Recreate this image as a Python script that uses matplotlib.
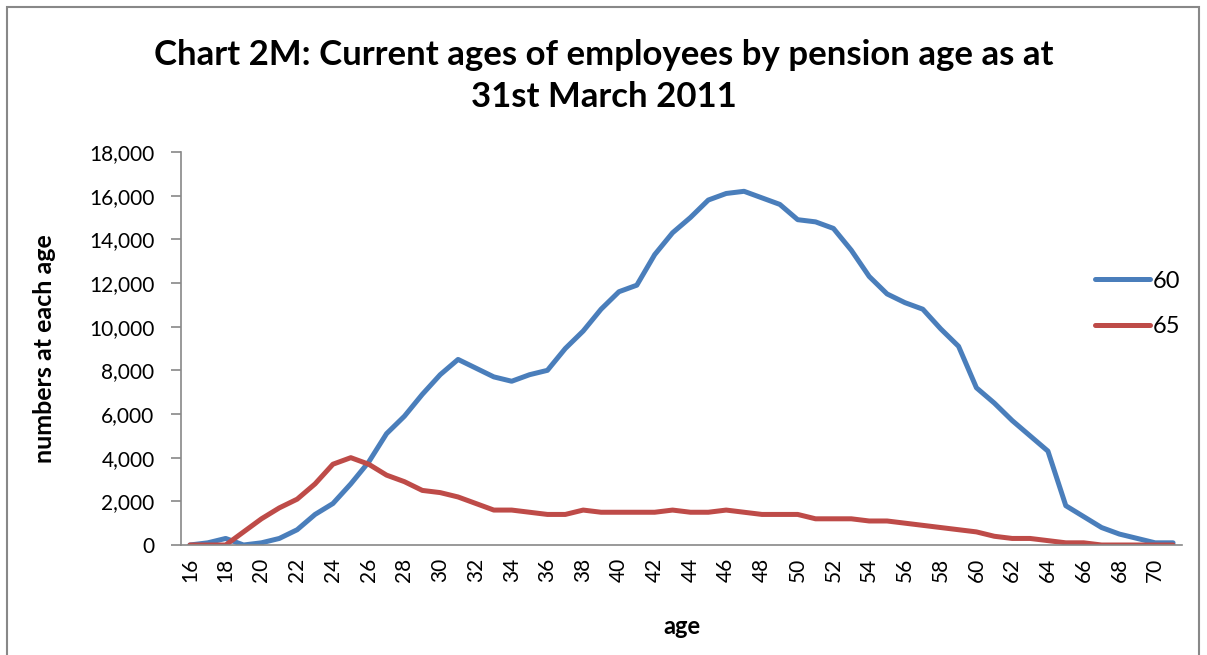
import matplotlib.pyplot as plt
from matplotlib.patches import Rectangle
from matplotlib.ticker import FuncFormatter

ages = list(range(16, 72))

# pension age 60
pension_60 = [0, 100, 300, 0, 100, 300, 700, 1400, 1900, 2800,
              3800, 5100, 5900, 6900, 7800, 8500, 8100, 7700, 7500, 7800,
              8000, 9000, 9800, 10800, 11600, 11900, 13300, 14300, 15000, 15800,
              16100, 16200, 15900, 15600, 14900, 14800, 14500, 13500, 12300, 11500,
              11100, 10800, 9900, 9100, 7200, 6500, 5700, 5000, 4300, 1800,
              1300, 800, 500, 300, 100, 100]

# pension age 65
pension_65 = [0, 0, 0, 600, 1200, 1700, 2100, 2800, 3700, 4000,
              3700, 3200, 2900, 2500, 2400, 2200, 1900, 1600, 1600, 1500,
              1400, 1400, 1600, 1500, 1500, 1500, 1500, 1600, 1500, 1500,
              1600, 1500, 1400, 1400, 1400, 1200, 1200, 1200, 1100, 1100,
              1000, 900, 800, 700, 600, 400, 300, 300, 200, 100,
              100, 0, 0, 0, 0, 0]

series_names = ["60", "65"]
colors = ["#4A7EBB", "#BE4B48"]

plt.rcParams['font.family'] = ['Lato', 'DejaVu Sans']

fig = plt.figure(figsize=(12.07, 6.55), dpi=100)
ax = fig.add_axes([181 / 1207, 1 - 545 / 655, (1182 - 181) / 1207, (545 - 152) / 655])

for vals, name, c in zip([pension_60, pension_65], series_names, colors):
    ax.plot(ages, vals, color=c, lw=3.6, label=name, solid_capstyle='round')

ax.set_xlim(ages[0] - 0.5, ages[-1] + 0.5)
ax.set_ylim(0, 18000)
ax.set_yticks(range(0, 18001, 2000))
ax.yaxis.set_major_formatter(FuncFormatter(lambda v, p: f"{int(v):,}"))
ax.set_xticks(ages[::2])
ax.set_xticklabels([str(a) for a in ages[::2]], rotation=90)

for s in ['top', 'right']:
    ax.spines[s].set_visible(False)
for s in ['left', 'bottom']:
    ax.spines[s].set_color('#888888')
    ax.spines[s].set_linewidth(1.2)
ax.tick_params(axis='y', length=7, width=1.2, color='#888888', labelsize=15, pad=12)
ax.tick_params(axis='x', length=0, labelsize=15, pad=9)

ax.set_xlabel("age", fontsize=17, fontweight='bold')
ax.set_ylabel("numbers at each age", fontsize=18, fontweight='bold')
ax.xaxis.set_label_coords(0.5, (545 - 615) / 393)
ax.yaxis.set_label_coords((56 - 181) / 1001, 0.5)

fig.text(0.5, 1 - 76 / 655, "Chart 2M: Current ages of employees by pension age as at\n31st March 2011",
         ha='center', va='center', fontsize=25, fontweight='bold', linespacing=1.4)

leg = ax.legend(loc='center left', bbox_to_anchor=(1074 / 1207, 1 - 304 / 655),
                bbox_transform=fig.transFigure, frameon=False, fontsize=17,
                handlelength=2.3, handletextpad=0.15, labelspacing=1.05)

fig.patches.append(Rectangle((7 / 1207, -0.01), (1199 - 7) / 1207, 1 - 7 / 655 + 0.01,
                             transform=fig.transFigure, fill=False,
                             edgecolor='#888888', lw=1.5))

fig.savefig("out.png", dpi=100)
